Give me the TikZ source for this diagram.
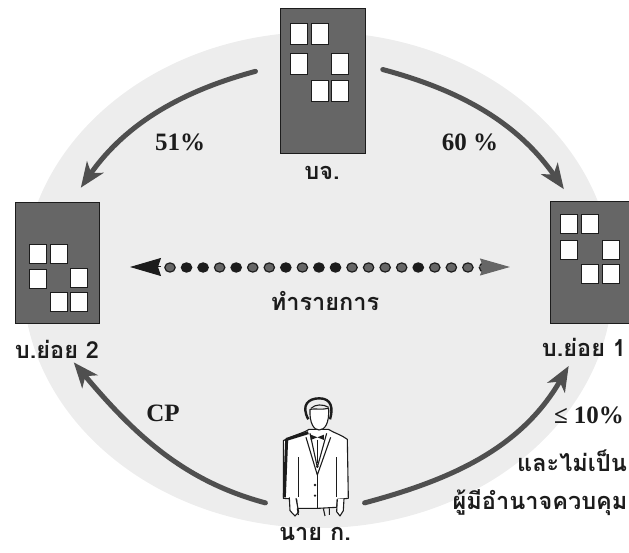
\documentclass[tikz,border=0pt]{standalone}
\usepackage{fontspec}
\usepackage{xcolor}
\usetikzlibrary{arrows.meta}
\setmainfont{Liberation Serif}
\newfontfamily\thaifont[Script=Thai]{Loma}
\definecolor{bldg_gray}{HTML}{666666}
\definecolor{flow_gray}{HTML}{4f4f4f}
\definecolor{ink_dark}{HTML}{1c1c1c}
\definecolor{oval_gray}{HTML}{ededed}
\tikzset{
  bldg/.style={draw=ink_dark, fill=bldg_gray, line width=0.8pt, inner sep=0pt, minimum width=#1},
  winbox/.style={draw=ink_dark, fill=white, line width=0.8pt},
  flow/.style={draw=flow_gray, line width=5pt, line cap=round,
    -{Stealth[length=25pt,width=20pt,inset=7pt]}},
  thailbl/.style={text=ink_dark, font=\thaifont\bfseries\fontsize{23.5}{25}\selectfont, inner sep=1pt},
  latinlbl/.style={text=ink_dark, font=\bfseries\fontsize{25}{27}\selectfont, inner sep=1pt},
  dealdot/.style={fill=#1, draw=ink_dark, line width=1.2pt},
  manline/.style={draw=ink_dark, line width=1.1pt, line join=round}
}
\begin{document}
\begin{tikzpicture}[x=1pt, y=-1pt]
    \useasboundingbox (0,0) rectangle (629,553);
    \fill[oval_gray] (318,280) ellipse (295 and 248);

    % Buildings with their labels
    \node[bldg=85pt, minimum height=145pt] (hq) at (322.5,80.5) {};
    \node[bldg=84pt, minimum height=121pt] (subtwo) at (57,262.5) {};
    \node[bldg=79pt, minimum height=122pt] (subone) at (589.5,262) {};

    \node[thailbl] (hqlbl) at (322,173) {บจ.};
    \node[thailbl] (subtwolbl) at (57,349) {บ.ย่อย 2};
    \node[thailbl] (subonelbl) at (584,347) {บ.ย่อย 1};

    \begin{scope}[shift={(280,8)}]
      \foreach \wx/\wy in {19/26, 40/26, 19/56, 60/56, 40/83, 60/83}
        \draw[winbox] (\wx-8.5,\wy-10.5) rectangle (\wx+8.5,\wy+10.5);
    \end{scope}
    \begin{scope}[shift={(15,202)}]
      \foreach \wx/\wy in {23/52, 44/52, 23/77, 64/76, 44/100, 64/100}
        \draw[winbox] (\wx-8.5,\wy-9.5) rectangle (\wx+8.5,\wy+9.5);
    \end{scope}
    \begin{scope}[shift={(550,201)}]
      \foreach \wx/\wy in {19/23, 40/23, 19/49, 61/49, 40/73, 61/73}
        \draw[winbox] (\wx-8.5,\wy-9.5) rectangle (\wx+8.5,\wy+9.5);
    \end{scope}

    % The man
    \node[minimum width=64pt, minimum height=117pt, inner sep=0pt] (man) at (315,456) {};
    \begin{scope}[shift={(240,380)}, x=0.3333pt, y=-0.3333pt]
      \draw[manline, fill=white] (130,182) .. controls (160,165) and (190,160) .. (207,148)
        -- (265,148) .. controls (285,160) and (305,165) .. (322,178)
        -- (325,355) -- (292,358) -- (290,382) -- (235,385) -- (172,385) -- (170,358) -- (130,355) -- cycle;
      \draw[manline, line width=3pt] (205,158) -- (140,178) -- (133,352);
      \draw[manline, fill=white] (148,352) -- (150,392) -- (165,408) -- (176,396) -- (168,355);
      \draw[manline, fill=white] (292,358) -- (290,395) -- (300,408) -- (310,392) -- (312,356);
      \draw[manline] (172,385) -- (175,405) (250,385) -- (255,408) (268,385) -- (268,405);
      \draw[manline] (175,232) -- (175,352) (290,232) -- (290,352);
      \draw[manline] (198,172) -- (232,285) -- (272,172) (210,160) -- (232,262) -- (260,160);
      \draw[manline] (232,285) -- (232,385) (232,180) -- (232,250);
      \fill[ink_dark] (232,172) -- (212,164) -- (212,180) -- cycle (232,172) -- (252,164) -- (252,180) -- cycle;
      \fill[ink_dark] (225,315) circle (4) (225,347) circle (4) (232,260) circle (4);
      \draw[manline, fill=white] (210,88) .. controls (208,130) and (222,150) .. (237,150)
        .. controls (255,150) and (268,130) .. (266,85) .. controls (245,90) and (225,85) .. (210,88) -- cycle;
      \draw[manline, line width=2.4pt] (205,118) .. controls (182,75) and (205,55) .. (238,55)
        .. controls (275,55) and (280,85) .. (270,118);
      \draw[manline] (213,85) .. controls (225,72) and (250,72) .. (266,82);
    \end{scope}

    % Curved arrows between the companies
    \draw[flow, shorten <=25pt, shorten >=17pt] (hq.160) to[out=195, in=55] (subtwo.77);
    \draw[flow, shorten <=18pt, shorten >=14pt] (hq.20) to[out=-15, in=125] (subone.106);
    \draw[flow, shorten <=18pt, shorten >=4pt] (man.238) to[out=165, in=-50] (subtwolbl.-36);
    \draw[flow, shorten <=18pt, shorten >=10pt] (man.-58) to[out=15, in=-120] (subonelbl.-135);

    % Dotted deal between the two subsidiaries
    \coordinate (dealwest) at (130,267);
    \coordinate (dealeast) at (510,267);
    \coordinate (dealwestin) at (161,267);
    \coordinate (dealeastin) at (479,267);
    \draw[line width=1pt, ink_dark, -{Stealth[length=31pt,width=18pt,inset=3pt]}] (dealwestin) -- (dealwest);
    \foreach \i/\dotcol in {0/bldg_gray, 1/ink_dark, 2/ink_dark, 3/bldg_gray, 4/ink_dark, 5/bldg_gray,
        6/bldg_gray, 7/ink_dark, 8/bldg_gray, 9/ink_dark, 10/ink_dark, 11/bldg_gray, 12/bldg_gray,
        13/bldg_gray, 14/bldg_gray, 15/ink_dark, 16/bldg_gray, 17/bldg_gray, 18/bldg_gray, 19/bldg_gray}
      \draw[dealdot=\dotcol] (170+16.55*\i,267.5) ellipse (5.2 and 4.6);
    \draw[line width=1pt, bldg_gray, -{Stealth[length=30pt,width=17pt,inset=3pt]}] (dealeastin) -- (dealeast);

    % Labels
    \node[thailbl] (deallbl) at (325,301) {ทำรายการ};
    \node[latinlbl] (pctleft) at (180,142) {51\%};
    \node[latinlbl] (pctright) at (470,142) {60 \%};
    \node[latinlbl] (cplbl) at (163,413) {CP};
    \node[latinlbl] (limitlbl) at (589,415) {≤ 10\%};
    \node[thailbl] (notlbl) at (572,461) {และไม่เป็น};
    \node[thailbl] (ctrllbl) at (540,503) {ผู้มีอำนาจควบคุม};
    \node[thailbl] (manlbl) at (315,534) {นาย ก.};
  \end{tikzpicture}
\end{document}
